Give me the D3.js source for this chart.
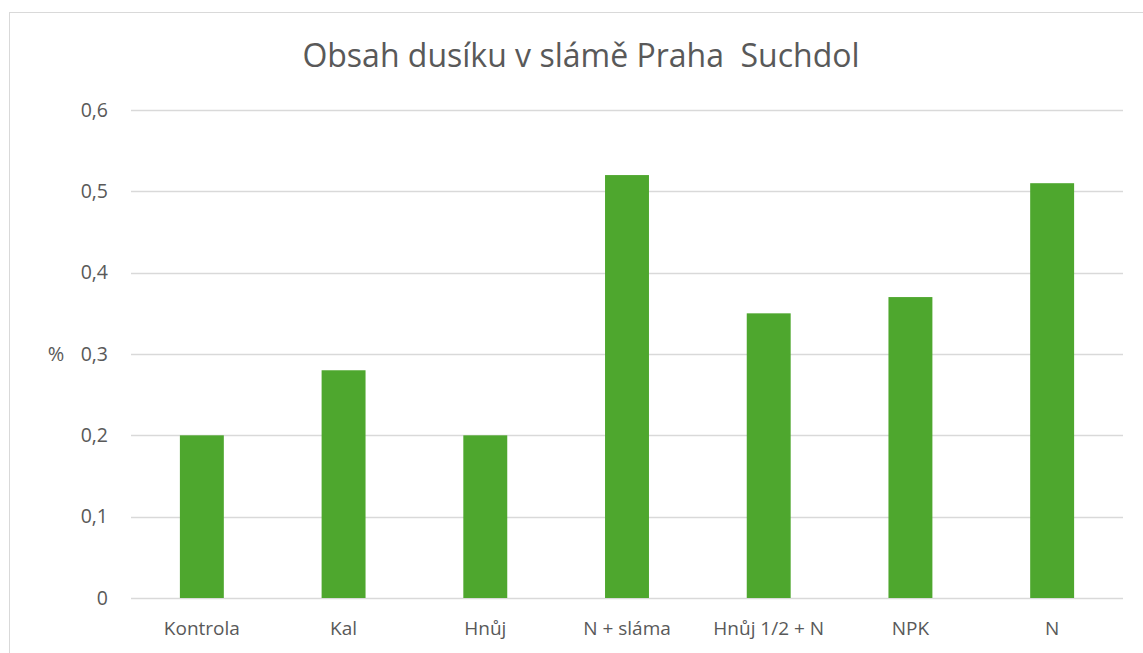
<!DOCTYPE html>
<meta charset="utf-8">
<script src="https://d3js.org/d3.v7.min.js"></script>
<html>
<body style="margin:0; background:#fff;">
<div id="chart"></div>
<script>
// data
var categories = ["Kontrola", "Kal", "Hnůj", "N + sláma", "Hnůj 1/2 + N", "NPK", "N"];
var values = [0.2, 0.28, 0.2, 0.52, 0.35, 0.37, 0.51];
var yTicks = [0, 0.1, 0.2, 0.3, 0.4, 0.5, 0.6];

var W = 1143, H = 653;

var svg = d3.select("#chart").append("svg")
    .attr("width", W)
    .attr("height", H);

// chart frame
svg.append("rect")
    .attr("x", 9.5).attr("y", 12.5)
    .attr("width", 1160).attr("height", 700)
    .attr("fill", "none")
    .attr("stroke", "#d9d9d9")
    .attr("stroke-width", 1);

var x = d3.scaleBand()
    .domain(categories)
    .range([131, 1123])
    .paddingInner(0.69)
    .paddingOuter(0.345);

var y = d3.scaleLinear()
    .domain([0, 0.6])
    .range([598, 110]);

var fmt = function(d) { return d === 0 ? "0" : d3.format(".1f")(d).replace(".", ","); };

// gridlines
svg.append("g")
  .selectAll("line")
  .data(yTicks)
  .enter().append("line")
    .attr("x1", 131).attr("x2", 1123)
    .attr("y1", function(d) { return Math.round(y(d)) + 0.5; })
    .attr("y2", function(d) { return Math.round(y(d)) + 0.5; })
    .attr("stroke", "#d9d9d9")
    .attr("stroke-width", 1.5);

// y tick labels
svg.append("g")
  .selectAll("text")
  .data(yTicks)
  .enter().append("text")
    .attr("x", 108)
    .attr("y", function(d) { return y(d); })
    .attr("dy", "0.35em")
    .attr("text-anchor", "end")
    .attr("font-family", "Open Sans, sans-serif")
    .attr("font-size", 19.5)
    .attr("fill", "#595959")
    .text(fmt);

// bars
svg.append("g")
  .selectAll("rect")
  .data(values)
  .enter().append("rect")
    .attr("x", function(d, i) { return x(categories[i]); })
    .attr("width", x.bandwidth())
    .attr("y", function(d) { return y(d); })
    .attr("height", function(d) { return y(0) - y(d); })
    .attr("fill", "#4ea72e");

// category labels
svg.append("g")
  .selectAll("text")
  .data(categories)
  .enter().append("text")
    .attr("x", function(d) { return x(d) + x.bandwidth() / 2; })
    .attr("y", 635)
    .attr("text-anchor", "middle")
    .attr("font-family", "Open Sans, sans-serif")
    .attr("font-size", 19)
    .attr("fill", "#595959")
    .text(function(d) { return d; });

// axis title
svg.append("text")
    .attr("x", 56)
    .attr("y", y(0.3))
    .attr("dy", "0.35em")
    .attr("text-anchor", "middle")
    .attr("font-family", "Open Sans, sans-serif")
    .attr("font-size", 20)
    .attr("fill", "#595959")
    .text("%");

// title
svg.append("text")
    .attr("x", 581)
    .attr("y", 67)
    .attr("text-anchor", "middle")
    .attr("font-family", "Open Sans, sans-serif")
    .attr("font-size", 32)
    .attr("fill", "#595959")
    .style("white-space", "pre")
    .text("Obsah dusíku v slámě Praha  Suchdol");
</script>
</body>
</html>
